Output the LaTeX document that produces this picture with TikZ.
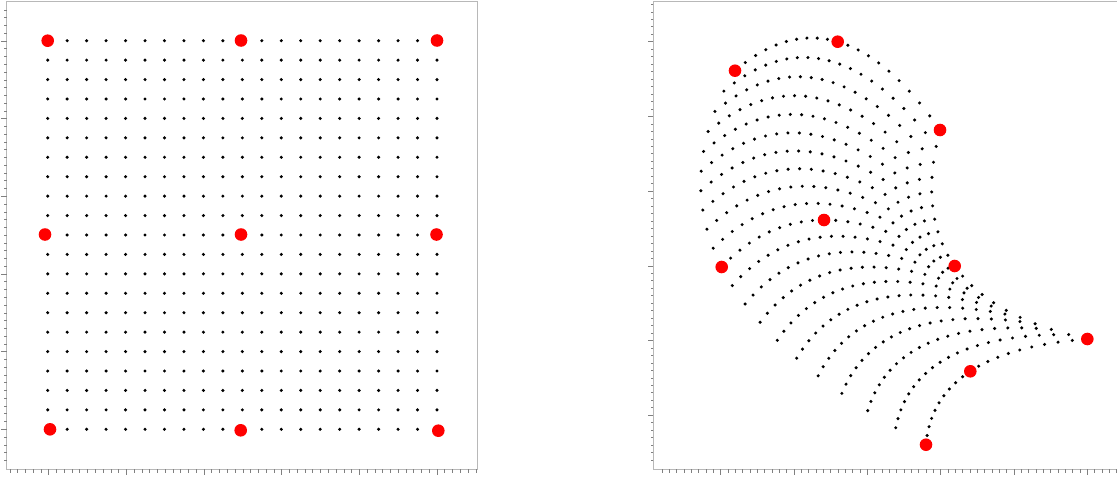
\documentclass[tikz,border=0pt]{standalone}
\begin{document}
\begin{tikzpicture}[x=1pt,y=-1pt,
  frame/.style={draw=black!28,line width=0.8pt},
  tickmark/.style={draw=black!50,line width=0.6pt},
  griddot/.style={fill=black},
  ctrl/.style={fill=red}]
\useasboundingbox (0,0) rectangle (1117,479);
% ---------- left panel frame and ticks ----------
\draw[frame] (6.7,469) -- (6.7,1) -- (477,1) -- (477,469) -- cycle;
\foreach \k in {-4,...,54}{
  \pgfmathsetmacro\yy{41+7.766*\k}
  \pgfmathsetmacro\ll{mod(\k,10)==0 ? 5.5 : 2.7}
  \draw[tickmark] (6.7,\yy) -- ++(-\ll,0);
}
\foreach \k in {-5,...,55}{
  \pgfmathsetmacro\xx{48.7+7.766*\k}
  \pgfmathsetmacro\ll{mod(\k,10)==0 ? 6 : 3.5}
  \draw[tickmark] (\xx,469) -- ++(0,\ll);
}
% ---------- right panel frame and ticks ----------
\draw[frame] (653.3,469) -- (653.3,1.7) -- (1118,1.7);
\draw[frame] (653.3,469) -- (1118,469);
\foreach \k in {-5,...,56}{
  \pgfmathsetmacro\yy{41.7+7.47*\k}
  \pgfmathsetmacro\ll{mod(\k,10)==0 ? 5.5 : 2.7}
  \draw[tickmark] (653.3,\yy) -- ++(-\ll,0);
}
\foreach \k in {-8,...,54}{
  \pgfmathsetmacro\xx{720.7+7.333*\k}
  \pgfmathsetmacro\ll{mod(\k,10)==0 ? 6 : 3.5}
  \draw[tickmark] (\xx,469) -- ++(0,\ll);
}
% ---------- left grid ----------
\foreach \i in {0,...,20}{
  \foreach \j in {0,...,20}{
    \fill[griddot] ({47.7+19.465*\i},{40.7+19.43*\j}) circle[radius=1.7pt];
  }
}
\foreach \p in {(47.7,40.7),(241,40.5),(437,40.5),(45,234.5),(241,234.5),(436.5,234.5),(50,429.3),(240.7,430.3),(438.3,430.7)}{
  \fill[ctrl] \p circle[radius=6.3pt];
}
% ---------- right grid: biquadratic interpolation ----------
% control points (row v=0: B A C; v=0.5: E D F; v=1: I H G)
\def\Bx{735}\def\By{70.7}
\def\Ax{837.7}\def\Ay{41.7}
\def\Cx{940}\def\Cy{130}
\def\Ex{721.7}\def\Ey{267}
\def\Dx{824}\def\Dy{220}
\def\Fx{954.7}\def\Fy{266}
\def\Ix{926}\def\Iy{444.7}
\def\Hx{970.3}\def\Hy{371.3}
\def\Gx{1087.3}\def\Gy{339}
\foreach \i in {0,...,20}{
  \pgfmathsetmacro\uu{\i/20}
  \pgfmathsetmacro\au{(1-\uu)*(1-2*\uu)}
  \pgfmathsetmacro\bu{4*\uu*(1-\uu)}
  \pgfmathsetmacro\cu{\uu*(2*\uu-1)}
  \pgfmathsetmacro\tx{\au*\Bx+\bu*\Ax+\cu*\Cx}
  \pgfmathsetmacro\ty{\au*\By+\bu*\Ay+\cu*\Cy}
  \pgfmathsetmacro\mx{\au*\Ex+\bu*\Dx+\cu*\Fx}
  \pgfmathsetmacro\my{\au*\Ey+\bu*\Dy+\cu*\Fy}
  \pgfmathsetmacro\lx{\au*\Ix+\bu*\Hx+\cu*\Gx}
  \pgfmathsetmacro\ly{\au*\Iy+\bu*\Hy+\cu*\Gy}
  \foreach \j in {0,...,20}{
    \pgfmathsetmacro\vv{\j/20}
    \pgfmathsetmacro\av{(1-\vv)*(1-2*\vv)}
    \pgfmathsetmacro\bv{4*\vv*(1-\vv)}
    \pgfmathsetmacro\cv{\vv*(2*\vv-1)}
    \pgfmathsetmacro\px{\av*\tx+\bv*\mx+\cv*\lx}
    \pgfmathsetmacro\py{\av*\ty+\bv*\my+\cv*\ly}
    \fill[griddot] (\px,\py) circle[radius=1.7pt];
  }
}
\foreach \p in {(\Bx,\By),(\Ax,\Ay),(\Cx,\Cy),(\Ex,\Ey),(\Dx,\Dy),(\Fx,\Fy),(\Ix,\Iy),(\Hx,\Hy),(\Gx,\Gy)}{
  \fill[ctrl] \p circle[radius=6.3pt];
}
\end{tikzpicture}
\end{document}
